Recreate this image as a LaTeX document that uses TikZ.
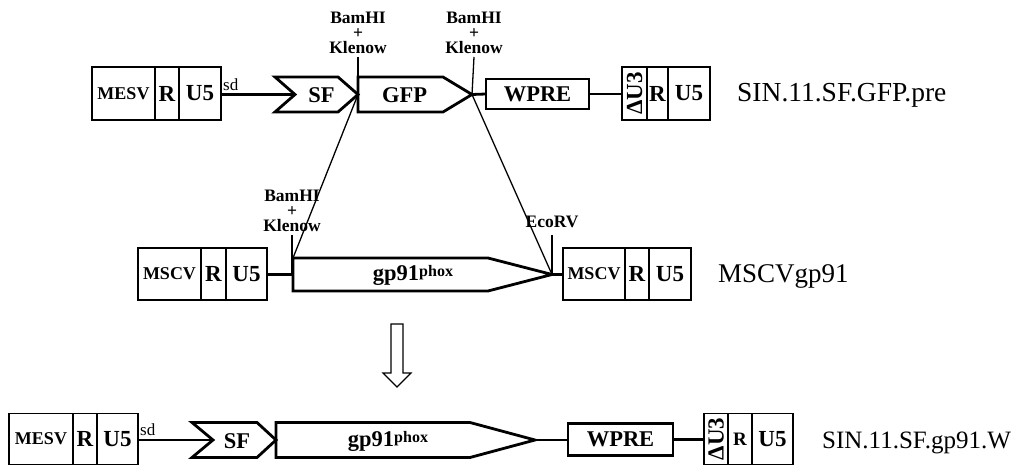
\documentclass[tikz,border=0pt]{standalone}
\usepackage{fontspec}
\setmainfont{Liberation Serif}
\newcommand\ltrsmall{\fontsize{18}{18}\selectfont\bfseries}
\newcommand\ltrbig{\fontsize{23}{23}\selectfont\bfseries}
\newcommand\elemfont{\fontsize{22.5}{22.5}\selectfont\bfseries}
\newcommand\sitefont{\fontsize{17.5}{15}\selectfont\bfseries}
\newcommand\namefont{\fontsize{27.5}{27.5}\selectfont}
\newcommand\gpname{gp91{\fontsize{16}{16}\selectfont\raisebox{4pt}{phox}}}
\newcommand\deltau{\rotatebox{90}{\fontsize{23}{23}\selectfont\bfseries ΔU3}}
\begin{document}
\begin{tikzpicture}[x=1pt,y=-1pt,
  cell/.style={draw, line width=1.7pt, inner sep=0pt, outer sep=0pt},
  thickline/.style={line width=2.8pt},
  thinline/.style={line width=1.3pt},
  elem/.style={draw, line width=2.8pt, line join=miter},
  site/.style={font=\sitefont, align=center, inner xsep=0pt, inner ysep=3pt, anchor=south},
  lab/.style={inner sep=0pt, font=\elemfont},
  construct/.style={font=\namefont, inner sep=0pt, anchor=base west}]
\useasboundingbox (0,0) rectangle (1031,465);

% ---------- SIN.11.SF.GFP.pre ----------
\node[cell, minimum width=63pt, minimum height=53pt, font=\ltrsmall] (a1) at (123.5,93.5) {MESV};
\node[cell, minimum width=24pt, minimum height=53pt, font=\ltrbig] (a2) at (167,93.5) {R};
\node[cell, minimum width=42pt, minimum height=53pt, font=\ltrbig] (a3) at (200,93.5) {U5};
\node[inner sep=0pt, anchor=base west, font=\fontsize{17}{17}\selectfont] (asd) at (223,91) {sd};

\coordinate (asfnotch) at (295,94.5);
\coordinate (asfpt) at (358,94.5);
\coordinate (agfppt) at (472,94.5);
\draw[elem] (275,77) -- (338,77) -- (asfpt) -- (338,112) -- (275,112) -- (asfnotch) -- cycle;
\node[lab] (asf) at (321.5,95) {SF};
\draw[elem] (358,77) -- (443,77) -- (agfppt) -- (443,112) -- (358,112) -- cycle;
\node[lab] (agfp) at (404.5,95) {GFP};

\node[cell, elem, minimum width=103pt, minimum height=30pt, font=\elemfont] (awpre) at (537.5,94) {WPRE};
\node[cell, minimum width=25pt, minimum height=53pt] (a4) at (634.5,93.5) {\deltau};
\node[cell, minimum width=21pt, minimum height=53pt, font=\ltrbig] (a5) at (657.5,93.5) {R};
\node[cell, minimum width=42pt, minimum height=53pt, font=\ltrbig] (a6) at (689,93.5) {U5};
\node[construct] (aname) at (737,102) {SIN.11.SF.GFP.pre};

\draw[thickline] (a3.east |- asfnotch) -- (asfnotch);
\draw[thickline] (agfppt) -- (awpre.west);
\draw[thickline] (awpre.east) -- (a4.west |- awpre.east);

\node[site] (abam1) at (358,57) {BamHI\\+\\Klenow};
\node[site] (abam2) at (474,57) {BamHI\\+\\Klenow};
\draw[thinline] (abam1.south) -- (asfpt);
\draw[thinline] (abam2.south) -- (agfppt);

% ---------- MSCVgp91 ----------
\node[cell, minimum width=63pt, minimum height=52pt, font=\ltrsmall] (b1) at (169.5,274) {MSCV};
\node[cell, minimum width=25pt, minimum height=52pt, font=\ltrbig] (b2) at (213.5,274) {R};
\node[cell, minimum width=41pt, minimum height=52pt, font=\ltrbig] (b3) at (246.5,274) {U5};

\coordinate (bgpl) at (293,258);
\coordinate (bgpmid) at (293,274.5);
\coordinate (bgppt) at (552,274.5);
\draw[elem] (bgpl) -- (488,258) -- (bgppt) -- (488,291) -- (293,291) -- cycle;
\node[lab] (bgp) at (413,275) {\gpname};

\node[cell, minimum width=62pt, minimum height=52pt, font=\ltrsmall] (b4) at (594,274) {MSCV};
\node[cell, minimum width=24pt, minimum height=52pt, font=\ltrbig] (b5) at (637,274) {R};
\node[cell, minimum width=42pt, minimum height=52pt, font=\ltrbig] (b6) at (670,274) {U5};
\node[construct, font=\fontsize{27}{27}\selectfont] (bname) at (718,282) {MSCVgp91};

\draw[thickline] (b3.east |- bgpmid) -- (bgpmid);
\draw[thickline] (bgppt) -- (b4.west |- bgppt);

\node[site] (bbam) at (292,235) {BamHI\\+\\Klenow};
\node[site] (beco) at (552,231) {EcoRV};
\coordinate (becotop) at (552,235);
\draw[thinline] (bbam.south) -- (bbam.south |- bgpmid);
\draw[thinline] (becotop) -- (bgppt);

% excision lines from the upper construct into the lower one
\draw[thinline] (asfpt) -- (bgpl);
\draw[thinline] (agfppt) -- (bgppt);

% ---------- hollow arrow ----------
\draw[line width=1.2pt, line join=miter] (391,324) -- (403,324) -- (403,373) -- (411,373) -- (397,387) -- (383,373) -- (391,373) -- cycle;

% ---------- SIN.11.SF.gp91.W ----------
\node[cell, minimum width=64pt, minimum height=51pt, font=\ltrsmall] (c1) at (41,439) {MESV};
\node[cell, minimum width=24pt, minimum height=51pt, font=\ltrbig] (c2) at (85,439) {R};
\node[cell, minimum width=41pt, minimum height=51pt, font=\ltrbig] (c3) at (117.5,439) {U5};
\node[inner sep=0pt, anchor=base west, font=\fontsize{17}{17}\selectfont] (csd) at (140,435) {sd};

\coordinate (csfnotch) at (213,440);
\coordinate (csfpt) at (276,440);
\coordinate (cgppt) at (535,440);
\draw[elem] (192,422.5) -- (257,422.5) -- (csfpt) -- (257,457.5) -- (192,457.5) -- (csfnotch) -- cycle;
\node[lab] (csf) at (237,441) {SF};
\draw[elem] (276,422.5) -- (470,422.5) -- (cgppt) -- (470,457.5) -- (276,457.5) -- cycle;
\node[lab] (cgp) at (388,441) {\gpname};

\node[cell, elem, minimum width=105pt, minimum height=32pt, font=\elemfont] (cwpre) at (620.5,439.5) {WPRE};
\node[cell, minimum width=24pt, minimum height=51pt] (c4) at (716,439) {\deltau};
\node[cell, minimum width=24pt, minimum height=51pt, font=\fontsize{19}{19}\selectfont\bfseries] (c5) at (740,439) {R};
\node[cell, minimum width=41pt, minimum height=51pt, font=\ltrbig] (c6) at (772.5,439) {U5};
\node[construct, font=\fontsize{25}{25}\selectfont] (cname) at (822,448) {SIN.11.SF.gp91.W};

\draw[thickline] (c3.east |- csfnotch) -- (csfnotch);
\draw[thickline] (cgppt) -- (cwpre.west |- cgppt);
\draw[thickline] (cwpre.east) -- (c4.west |- cwpre.east);
\end{tikzpicture}
\end{document}
